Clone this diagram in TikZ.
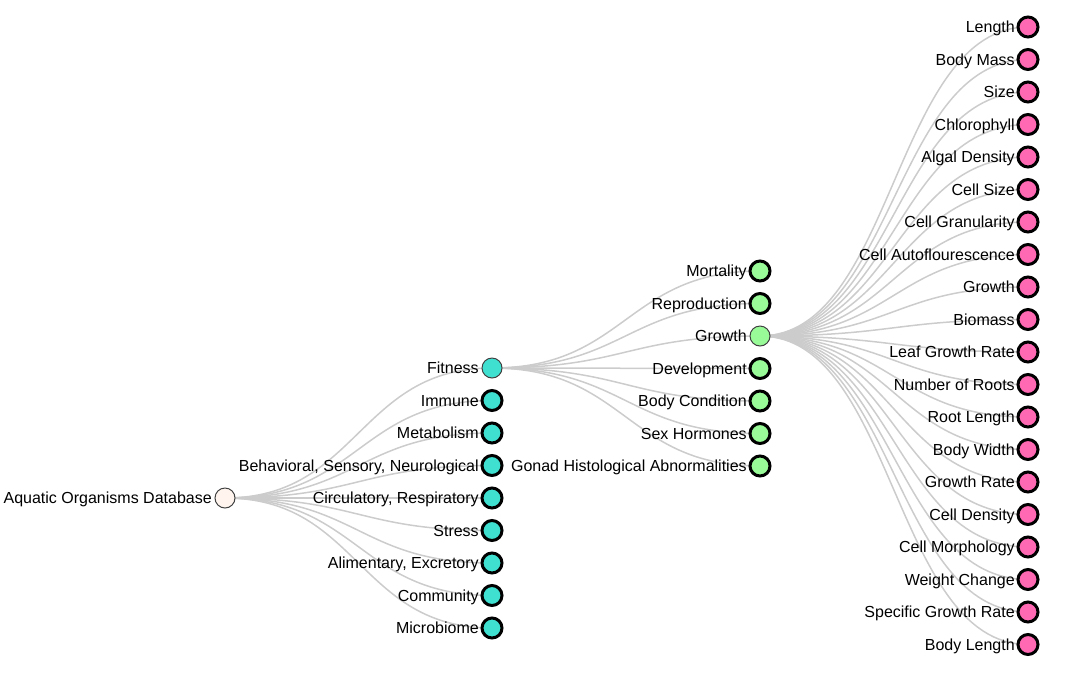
\documentclass[tikz,border=0pt]{standalone}
\usepackage{fontspec}
\setmainfont{Liberation Sans}
\usepackage{tikz}
\usetikzlibrary{calc,backgrounds}
\usepackage{xcolor}
\definecolor{linkgray}{HTML}{CCCCCC}
\definecolor{rootfill}{HTML}{FFF5EE}
\definecolor{turq}{HTML}{40E0D0}
\definecolor{lgreen}{HTML}{98FB98}
\definecolor{hpink}{HTML}{FF69B4}
\tikzset{
  every node/.style={font=\fontsize{12pt}{14pt}\selectfont},
  every label/.style={font=\fontsize{12pt}{14pt}\selectfont, inner sep=0pt,
    text height=8.4pt, text depth=0pt, xshift=-2.25pt}
}
\begin{document}
\begin{tikzpicture}[x=0.75pt, y=-0.75pt]
  \tikzset{
    open/.style={
      draw=black!75,
      circle,
      minimum size=15pt,
      inner sep=0pt,
      outer sep=0pt,
      line width=0.75pt,
      label distance=2.25pt
    },
    shut/.style={
      draw=black,
      circle,
      minimum size=15pt,
      inner sep=0pt,
      outer sep=0pt,
      line width=2.25pt,
      label distance=2.25pt
    },
    link/.style={
      draw=linkgray,
      line width=1.125pt,
      to path={let \p1=(\tikztostart), \p2=(\tikztotarget) in
        .. controls ({0.5*\x1+0.5*\x2},\y1) and ({0.5*\x1+0.5*\x2},\y2) .. (\tikztotarget)}
    }
  }
  \useasboundingbox (0,0) rectangle (1069,672);

  % Root
  \node[open, fill=rootfill, label={left:Aquatic Organisms Database}] (root) at (225,498) {};

  % First level
  \node[open, fill=turq, label={left:Fitness}] (fit) at (492,368) {};
  \node[shut, fill=turq, label={left:Immune}] (imm) at (492,400.5) {};
  \node[shut, fill=turq, label={left:Metabolism}] (met) at (492,433) {};
  \node[shut, fill=turq, label={left:{Behavioral, Sensory, Neurological}}] (beh) at (492,465.5) {};
  \node[shut, fill=turq, label={left:{Circulatory, Respiratory}}] (cir) at (492,498) {};
  \node[shut, fill=turq, label={left:Stress}] (str) at (492,530.5) {};
  \node[shut, fill=turq, label={left:{Alimentary, Excretory}}] (ali) at (492,563) {};
  \node[shut, fill=turq, label={left:Community}] (com) at (492,595.5) {};
  \node[shut, fill=turq, label={left:Microbiome}] (mic) at (492,628) {};

  % Second level
  \node[shut, fill=lgreen, label={left:Mortality}] (mor) at (760,271) {};
  \node[shut, fill=lgreen, label={left:Reproduction}] (rep) at (760,303.5) {};
  \node[open, fill=lgreen, label={left:Growth}] (gro) at (760,336) {};
  \node[shut, fill=lgreen, label={left:Development}] (dev) at (760,368.5) {};
  \node[shut, fill=lgreen, label={left:Body Condition}] (bcon) at (760,401) {};
  \node[shut, fill=lgreen, label={left:Sex Hormones}] (sex) at (760,433.5) {};
  \node[shut, fill=lgreen, label={left:Gonad Histological Abnormalities}] (gon) at (760,466) {};

  % Third level
  \node[shut, fill=hpink, label={left:Length}] (len) at (1028,27) {};
  \node[shut, fill=hpink, label={left:Body Mass}] (bmass) at (1028,59.5) {};
  \node[shut, fill=hpink, label={left:Size}] (size) at (1028,92) {};
  \node[shut, fill=hpink, label={left:Chlorophyll}] (chl) at (1028,124.5) {};
  \node[shut, fill=hpink, label={left:Algal Density}] (alg) at (1028,157) {};
  \node[shut, fill=hpink, label={left:Cell Size}] (csize) at (1028,189.5) {};
  \node[shut, fill=hpink, label={left:Cell Granularity}] (cgran) at (1028,222) {};
  \node[shut, fill=hpink, label={left:Cell Autoflourescence}] (caut) at (1028,254.5) {};
  \node[shut, fill=hpink, label={left:Growth}] (grw) at (1028,287) {};
  \node[shut, fill=hpink, label={left:Biomass}] (bio) at (1028,319.5) {};
  \node[shut, fill=hpink, label={left:Leaf Growth Rate}] (leaf) at (1028,352) {};
  \node[shut, fill=hpink, label={left:Number of Roots}] (nroot) at (1028,384.5) {};
  \node[shut, fill=hpink, label={left:Root Length}] (rlen) at (1028,417) {};
  \node[shut, fill=hpink, label={left:Body Width}] (bwid) at (1028,449.5) {};
  \node[shut, fill=hpink, label={left:Growth Rate}] (grate) at (1028,482) {};
  \node[shut, fill=hpink, label={left:Cell Density}] (cden) at (1028,514.5) {};
  \node[shut, fill=hpink, label={left:Cell Morphology}] (cmor) at (1028,547) {};
  \node[shut, fill=hpink, label={left:Weight Change}] (wch) at (1028,579.5) {};
  \node[shut, fill=hpink, label={left:Specific Growth Rate}] (sgr) at (1028,612) {};
  \node[shut, fill=hpink, label={left:Body Length}] (blen) at (1028,644.5) {};

  % Links
  \begin{scope}[on background layer]
    \draw[link] (root.center) to (fit.center);
    \draw[link] (root.center) to (imm.center);
    \draw[link] (root.center) to (met.center);
    \draw[link] (root.center) to (beh.center);
    \draw[link] (root.center) to (cir.center);
    \draw[link] (root.center) to (str.center);
    \draw[link] (root.center) to (ali.center);
    \draw[link] (root.center) to (com.center);
    \draw[link] (root.center) to (mic.center);

    \draw[link] (fit.center) to (mor.center);
    \draw[link] (fit.center) to (rep.center);
    \draw[link] (fit.center) to (gro.center);
    \draw[link] (fit.center) to (dev.center);
    \draw[link] (fit.center) to (bcon.center);
    \draw[link] (fit.center) to (sex.center);
    \draw[link] (fit.center) to (gon.center);

    \draw[link] (gro.center) to (len.center);
    \draw[link] (gro.center) to (bmass.center);
    \draw[link] (gro.center) to (size.center);
    \draw[link] (gro.center) to (chl.center);
    \draw[link] (gro.center) to (alg.center);
    \draw[link] (gro.center) to (csize.center);
    \draw[link] (gro.center) to (cgran.center);
    \draw[link] (gro.center) to (caut.center);
    \draw[link] (gro.center) to (grw.center);
    \draw[link] (gro.center) to (bio.center);
    \draw[link] (gro.center) to (leaf.center);
    \draw[link] (gro.center) to (nroot.center);
    \draw[link] (gro.center) to (rlen.center);
    \draw[link] (gro.center) to (bwid.center);
    \draw[link] (gro.center) to (grate.center);
    \draw[link] (gro.center) to (cden.center);
    \draw[link] (gro.center) to (cmor.center);
    \draw[link] (gro.center) to (wch.center);
    \draw[link] (gro.center) to (sgr.center);
    \draw[link] (gro.center) to (blen.center);
  \end{scope}
\end{tikzpicture}
\end{document}
